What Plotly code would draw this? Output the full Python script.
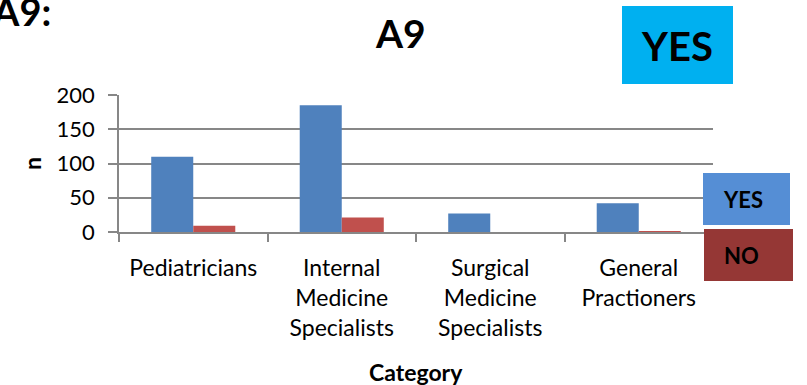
import plotly.graph_objects as go

# Survey counts per physician category
categories = [
    "Pediatricians",
    "Internal<br>Medicine<br>Specialists",
    "Surgical<br>Medicine<br>Specialists",
    "General<br>Practioners",
]
yes_counts = [110, 185, 27, 42]
no_counts = [9, 21, 0, 1]
y_ticks = [0, 50, 100, 150, 200]

FONT = "Lato"
GRID = "#878787"

fig = go.Figure()
fig.add_trace(go.Bar(name="YES", x=categories, y=yes_counts,
                     marker=dict(color="#4F81BD", line=dict(width=0))))
fig.add_trace(go.Bar(name="NO", x=categories, y=no_counts,
                     marker=dict(color="#C0504D", line=dict(width=0))))

# plot area geometry in pixels (used to place the free-standing labels)
L, R, T, B = 119, 94, 95, 153
W, H = 807, 385
pw, ph = W - L - R, H - T - B


def px(x):
    return (x - L) / pw


def py(y):
    return (H - B - y) / ph


shapes = [
    # big "YES" badge
    dict(type="rect", xref="paper", yref="paper", x0=px(622), x1=px(733),
         y0=py(84), y1=py(6), fillcolor="#00B0F0", line=dict(width=0), layer="above"),
    # key boxes
    dict(type="rect", xref="paper", yref="paper", x0=px(703), x1=px(790),
         y0=py(225), y1=py(173), fillcolor="#558ED5", line=dict(width=0), layer="above"),
    dict(type="rect", xref="paper", yref="paper", x0=px(704), x1=px(793),
         y0=py(281), y1=py(229), fillcolor="#953735", line=dict(width=0), layer="above"),
]

annotations = [
    # section label running off the top-left corner
    dict(text="<b>A9:</b>", xref="paper", yref="paper", x=px(53), y=py(11),
         xanchor="right", yanchor="middle", showarrow=False,
         font=dict(family=FONT, size=38, color="black")),
    dict(text="<b>A9</b>", xref="paper", yref="paper", x=px(400), y=py(33),
         xanchor="center", yanchor="middle", showarrow=False,
         font=dict(family=FONT, size=39, color="black")),
    dict(text="<b>YES</b>", xref="paper", yref="paper", x=px(677), y=py(46),
         xanchor="center", yanchor="middle", showarrow=False,
         font=dict(family=FONT, size=40, color="black")),
    dict(text="<b>YES</b>", xref="paper", yref="paper", x=px(743), y=py(199),
         xanchor="center", yanchor="middle", showarrow=False,
         font=dict(family=FONT, size=22, color="black")),
    dict(text="<b>NO</b>", xref="paper", yref="paper", x=px(741), y=py(255),
         xanchor="center", yanchor="middle", showarrow=False,
         font=dict(family=FONT, size=22, color="black")),
    dict(text="<b>n</b>", xref="paper", yref="paper", x=px(32), y=py(164),
         xanchor="center", yanchor="middle", showarrow=False, textangle=-90,
         font=dict(family=FONT, size=23, color="black")),
    dict(text="<b>Category</b>", xref="paper", yref="paper", x=0.5, y=py(372),
         xanchor="center", yanchor="middle", showarrow=False,
         font=dict(family=FONT, size=23, color="black")),
]

fig.update_layout(
    width=W, height=H,
    margin=dict(l=L, r=R, t=T, b=B, autoexpand=False),
    paper_bgcolor="white", plot_bgcolor="white",
    barmode="group", bargap=0.434, bargroupgap=0,
    showlegend=False,
    shapes=shapes, annotations=annotations,
    font=dict(family=FONT, color="black"),
    xaxis=dict(
        showline=True, linecolor=GRID, linewidth=1.5,
        ticks="outside", tickson="boundaries", ticklen=8, tickcolor=GRID, tickwidth=1.5,
        showgrid=False, tickfont=dict(family=FONT, size=23, color="black"),
        ticklabelstandoff=15, automargin=False,
    ),
    yaxis=dict(
        range=[0, 200], tickvals=y_ticks,
        showline=True, linecolor=GRID, linewidth=1.5,
        ticks="outside", ticklen=9, tickcolor=GRID, tickwidth=1.5,
        showgrid=True, gridcolor=GRID, gridwidth=1.5, zeroline=False,
        tickfont=dict(family=FONT, size=22, color="black"),
        ticklabelstandoff=9, automargin=False,
    ),
)

fig.write_html("out.html")
